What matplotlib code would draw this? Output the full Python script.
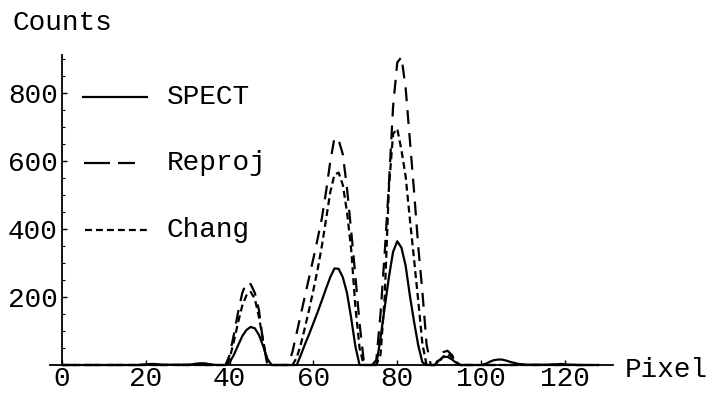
import matplotlib
matplotlib.use("Agg")
import matplotlib.pyplot as plt
from matplotlib.lines import Line2D
from matplotlib.ticker import MultipleLocator
import numpy as np

# Profile counts along one image row, one value per pixel (0..128)
pixel = np.arange(129)

spect = [
    0, 0, 0, 0, 0, 0, 0, 0, 0, 0,
    0, 0, 0, 0, 0, 0, 0, 0, 0, 1,
    2, 3, 3, 2, 1, 1, 1, 1, 1, 1,
    1, 2, 4, 5, 5, 3, 1, 0, 0, 0,
    8, 30, 58, 85, 103, 112, 108, 88, 55, 18,
    0, 0, 0, 0, 0, 0, 0, 30, 62, 92,
    124, 156, 190, 225, 258, 284, 283, 258, 212, 138,
    55, 0, 0, 0, 0, 0, 80, 168, 258, 333,
    364, 345, 292, 205, 128, 58, 8, 0, 0, 0,
    14, 24, 24, 17, 7, 0, 0, 0, 0, 0,
    0, 3, 9, 14, 16, 16, 13, 9, 6, 3,
    2, 1, 1, 1, 1, 1, 1, 2, 2, 3,
    2, 1, 1, 0, 0, 0, 0, 0, 0,
]

reproj = [0] * 40 + [
    30, 90, 155, 212, 243, 238, 212, 160, 65, 0,
    0, 0, 0, 0, 0, 40, 95, 150, 205, 260,
    315, 372, 432, 510, 598, 668, 662, 620, 520, 395,
    262, 122, 12, 0, 0, 15, 150, 330, 530, 760,
    890, 906, 815, 665, 512, 350, 215, 60, 0, 0,
    20, 38, 42, 30, 12, 0, 0, 0, 0, 0,
] + [0] * 29

chang = [0] * 40 + [
    20, 70, 125, 175, 205, 215, 195, 140, 70, 10,
    0, 0, 0, 0, 0, 0, 22, 62, 112, 165,
    222, 282, 350, 430, 508, 560, 566, 530, 450, 340,
    172, 50, 0, 0, 0, 0, 30, 200, 520, 680,
    695, 632, 555, 430, 312, 190, 62, 0, 0, 0,
    10, 25, 32, 25, 10, 0, 0, 0, 0, 0,
] + [0] * 29

series_names = ["SPECT", "Reproj", "Chang"]
x_ticks = [0, 20, 40, 60, 80, 100, 120]
y_ticks = [200, 400, 600, 800]

W, H, DPI = 714, 394, 100
plt.rcParams["font.family"] = ["Liberation Mono", "DejaVu Sans Mono"]
plt.rcParams["lines.scale_dashes"] = False
FS = 20

fig = plt.figure(figsize=(W / DPI, H / DPI), dpi=DPI)
fig.patch.set_facecolor("white")


def fx(px):
    return px / W


def fy(py):
    return 1 - py / H


left, right, top, bottom = 50, 613, 55, 365
ax = fig.add_axes([fx(left), fy(bottom), (right - left) / W, (bottom - top) / H])
ax.set_xlim(-2.9, 131.5)
ax.set_ylim(0, 912)

lw = 1.6
solid_style = dict(color="black", lw=lw)
long_dash = dict(color="black", lw=lw, dashes=(10, 6.5))
short_dash = dict(color="black", lw=lw, dashes=(5, 2.9))

ax.plot(pixel, spect, clip_on=False, zorder=3, **solid_style)
ax.plot(pixel, reproj, clip_on=False, zorder=3, **long_dash)
ax.plot(pixel, chang, clip_on=False, zorder=3, **short_dash)

for side in ("top", "right"):
    ax.spines[side].set_visible(False)
ax.spines["left"].set_position(("data", 0))
for side in ("left", "bottom"):
    ax.spines[side].set_linewidth(1.3)

ax.set_xticks(x_ticks)
ax.set_xticklabels([str(v) for v in x_ticks])
ax.set_yticks(y_ticks)
ax.set_yticklabels([str(v) for v in y_ticks])
ax.yaxis.set_minor_locator(MultipleLocator(50))
ax.tick_params(axis="both", which="major", direction="in", length=3.5,
               width=1, labelsize=FS)
ax.tick_params(axis="y", which="minor", direction="in", length=1.8, width=0.8)
ax.tick_params(axis="x", pad=1)
ax.tick_params(axis="y", pad=3)

fig.text(fx(12), fy(23), "Counts", ha="left", va="center", size=FS)
fig.text(fx(625), fy(370), "Pixel", ha="left", va="center", size=FS)

# Legend drawn by hand, line samples to the left of the labels
legend_rows = [
    (97, 83, 147, dict(color="black", lw=lw)),
    (163, 84, 135, dict(color="black", lw=lw, dashes=(18.7, 5.8))),
    (230, 85, 150, dict(color="black", lw=lw, dashes=(5, 2.9))),
]
for name, (yy, xa, xb, style) in zip(series_names, legend_rows):
    fig.add_artist(Line2D([fx(xa), fx(xb)], [fy(yy), fy(yy)],
                          transform=fig.transFigure, **style))
    fig.text(fx(167), fy(yy), name, ha="left", va="center", size=FS)

fig.savefig("out.png", dpi=DPI, facecolor="white")
